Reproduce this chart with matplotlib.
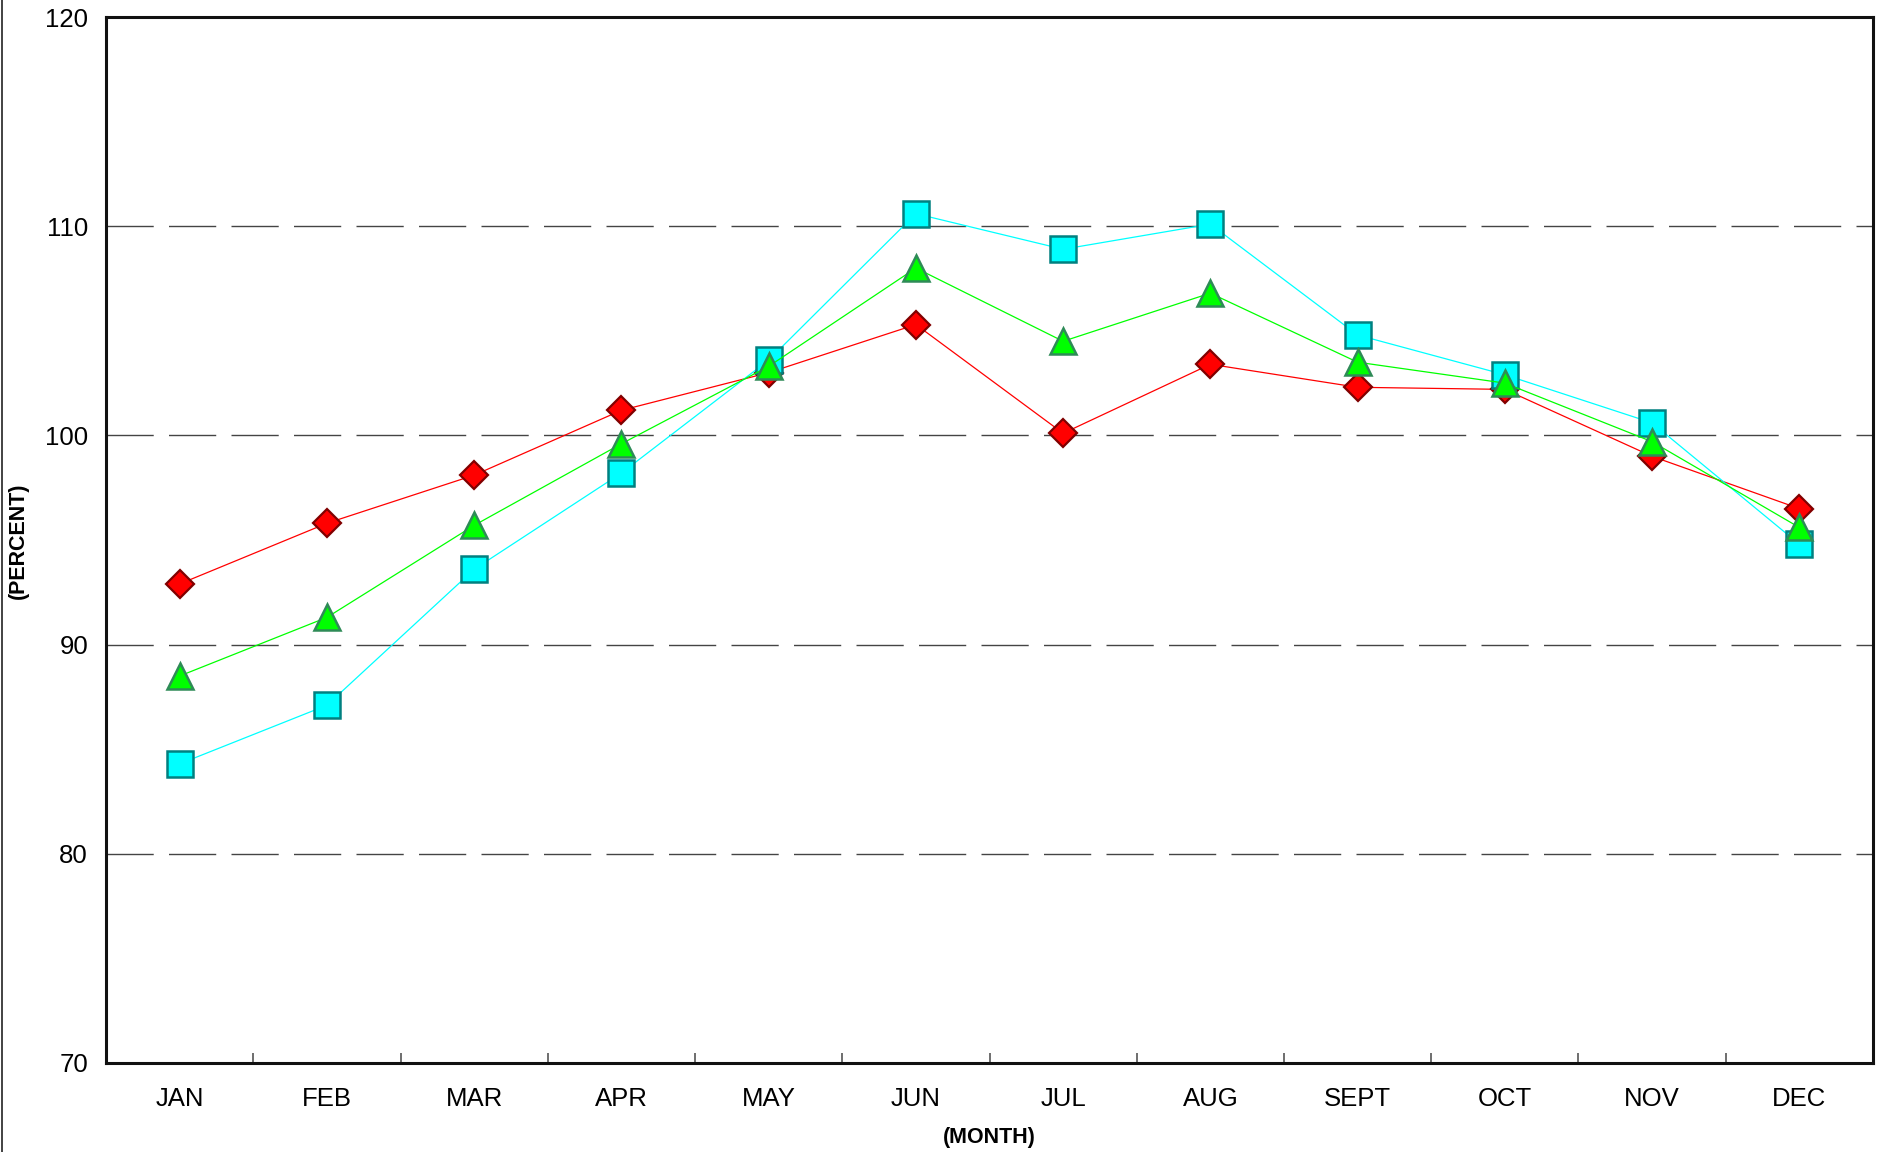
import matplotlib
matplotlib.use("Agg")
import matplotlib.pyplot as plt
from matplotlib.lines import Line2D
import numpy as np

plt.rcParams['font.family'] = ['Liberation Sans', 'DejaVu Sans']

months = ["JAN", "FEB", "MAR", "APR", "MAY", "JUN", "JUL", "AUG", "SEPT", "OCT", "NOV", "DEC"]
red_vals = [92.9, 95.8, 98.1, 101.2, 103.0, 105.3, 100.1, 103.4, 102.3, 102.2, 99.0, 96.5]
green_vals = [88.5, 91.3, 95.7, 99.6, 103.3, 108.0, 104.5, 106.8, 103.5, 102.5, 99.7, 95.6]
cyan_vals = [84.3, 87.1, 93.6, 98.2, 103.6, 110.6, 108.9, 110.1, 104.8, 102.9, 100.6, 94.8]
y_ticks = [70, 80, 90, 100, 110, 120]

fig = plt.figure(figsize=(18.81, 11.52), dpi=100)
ax = fig.add_axes([0.0564, 0.0773, 0.9393, 0.9079])

x = np.arange(len(months))

# gridlines at inner ticks
for yv in y_ticks[1:-1]:
    ax.axhline(yv, color='#444444', lw=1.0, dashes=(34, 11), zorder=1)

ax.plot(x, red_vals, color='#ff0000', lw=0.9, marker='D', ms=14,
        mfc='#ff0000', mec='#800000', mew=1.6, zorder=3)
ax.plot(x, cyan_vals, color='#00ffff', lw=0.9, marker='s', ms=18.5,
        mfc='#00ffff', mec='#008080', mew=1.8, zorder=4)
ax.plot(x, green_vals, color='#00ff00', lw=0.9, marker='^', ms=19,
        mfc='#00ff00', mec='#2e8b57', mew=1.8, zorder=5)

ax.set_xlim(-0.5, len(months) - 0.5)
ax.set_ylim(70, 120)
ax.set_yticks(y_ticks)
ax.set_yticklabels([str(v) for v in y_ticks], fontsize=18.5)
ax.tick_params(axis='y', length=0, pad=13)

ax.set_xticks(x)
ax.set_xticklabels(months, fontsize=18.5)
ax.tick_params(axis='x', which='major', length=0, pad=17)
ax.set_xticks(np.arange(0.5, len(months) - 1, 1.0), minor=True)
ax.tick_params(axis='x', which='minor', direction='in', length=7, width=1.2, color='#555555')

for s in ax.spines.values():
    s.set_linewidth(2.2)
    s.set_color('#111111')

ax.set_xlabel("(MONTH)", fontsize=15.5, fontweight='bold', labelpad=12)
fig.text(0.0096, 0.531, "(PERCENT)", rotation=90, fontsize=15.5, fontweight='bold',
         ha='center', va='center')

# left border of the page
fig.add_artist(Line2D([0.0012, 0.0012], [0, 1], transform=fig.transFigure,
                      color='#222222', lw=1.2))

fig.savefig("out.png", dpi=100)
